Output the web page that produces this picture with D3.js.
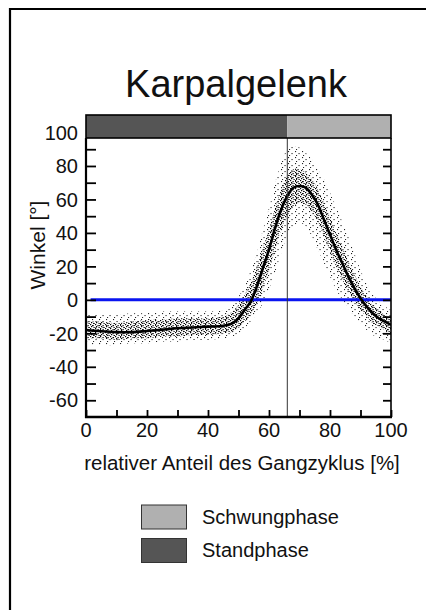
<!DOCTYPE html>
<html><head><meta charset="utf-8">
<script src="https://cdn.jsdelivr.net/npm/d3@7/dist/d3.min.js"></script>
<style>html,body{margin:0;padding:0;background:#fff;overflow:hidden;}svg{display:block;font-family:"Liberation Sans",Arial,sans-serif;}</style>
</head><body>
<script>
// ---- data ----
const pct = [0,5,10,15,20,25,30,35,40,45,48,50,52,54,56,58,60,62,64,66,68,70,72,74,76,78,80,82,84,86,88,90,92,94,96,98,100];
const meanAngle = [-18,-18.8,-19.3,-19.3,-18.6,-17.8,-17,-16.5,-16,-15.5,-14,-11,-6,-1,8,19,30,43,54,62,67,68,67,63,57,48,39,30,22,14,7,1,-4,-8,-11,-13,-15];
const outerUpper = [-9,-9,-9,-8,-8,-7,-7,-7,-7,-6,-3,2,8,18,28,42,55,70,82,90,92,91,88,84,78,72,64,56,47,38,28,18,10,4,-1,-4,-6];
const outerLower = [-27,-27,-27,-26,-26,-25,-25,-24,-24,-23,-22,-20,-17,-13,-8,-2,6,16,28,38,44,46,44,38,30,22,14,6,0,-5,-10,-14,-18,-21,-23,-24,-26];
const innerUpper = [-13,-13,-14,-13,-12,-12,-11,-11,-11,-10,-7,-3,3,10,20,31,42,55,66,74,78,78,76,72,66,58,49,40,32,23,15,8,2,-3,-6,-9,-10];
const innerLower = [-23,-23,-24,-23,-23,-22,-22,-21,-21,-20,-19,-17,-13,-9,-2,7,18,30,42,50,56,58,57,53,47,38,29,20,12,5,-1,-6,-10,-14,-16,-18,-20];
const phaseNames = ["Standphase","Schwungphase"];
const phaseStart = [0,66];
const phaseEnd = [66,100];
const phaseColors = ["#555555","#b0b0b0"];
const xTickLabels = [0,20,40,60,80,100];
const yTickLabels = [100,80,60,40,20,0,-20,-40,-60];
const title = "Karpalgelenk";
const xTitle = "relativer Anteil des Gangzyklus [%]";
const yTitle = "Winkel [°]";

// ---- layout ----
const W=426,H=610;
const svg=d3.select("body").append("svg").attr("width",W).attr("height",H);
const x=d3.scaleLinear().domain([0,100]).range([86,391]);
const y=d3.scaleLinear().domain([-70,100]).range([417,132.5]);
const plotTop=138, barTop=115;

// outer frame (only top/left visible)
svg.append("path").attr("d",`M10,${H} L10,9 L${W},9`).attr("fill","none").attr("stroke","#000").attr("stroke-width",2.2);

// patterns
const defs=svg.append("defs");
const pd=defs.append("pattern").attr("id","dense").attr("patternUnits","userSpaceOnUse").attr("width",5).attr("height",4);
[[0,0],[2.5,1],[1,2],[3.5,3]].forEach(p=>pd.append("rect").attr("x",p[0]).attr("y",p[1]).attr("width",1.2).attr("height",1.2).attr("fill","#000"));
const ps=defs.append("pattern").attr("id","sparse").attr("patternUnits","userSpaceOnUse").attr("width",7).attr("height",6);
[[1,1],[4.5,3],[2,5]].forEach(p=>ps.append("rect").attr("x",p[0]).attr("y",p[1]).attr("width",1.1).attr("height",1.1).attr("fill","#222"));

const clip=defs.append("clipPath").attr("id","pc");
clip.append("rect").attr("x",x(0)).attr("y",plotTop).attr("width",x(100)-x(0)).attr("height",y(-70)-plotTop);

const g=svg.append("g").attr("clip-path","url(#pc)");
const idx=d3.range(pct.length);
const curve=d3.curveCatmullRom;
g.append("path").datum(idx).attr("d",d3.area().x(i=>x(pct[i])).y0(i=>y(outerLower[i])).y1(i=>y(outerUpper[i])).curve(curve)).attr("fill","url(#sparse)");
g.append("path").datum(idx).attr("d",d3.area().x(i=>x(pct[i])).y0(i=>y(innerLower[i])).y1(i=>y(innerUpper[i])).curve(curve)).attr("fill","url(#dense)");

// zero line
g.append("line").attr("x1",x(1.5)).attr("x2",x(100)).attr("y1",y(0)).attr("y2",y(0)).attr("stroke","#0a14f0").attr("stroke-width",3);

// vertical phase line
svg.append("line").attr("x1",x(phaseEnd[0])).attr("x2",x(phaseEnd[0])).attr("y1",plotTop).attr("y2",y(-70)).attr("stroke","#333").attr("stroke-width",1);

// mean curve
g.append("path").datum(idx).attr("d",d3.line().x(i=>x(pct[i])).y(i=>y(meanAngle[i])).curve(curve)).attr("fill","none").attr("stroke","#000").attr("stroke-width",2.6);

// phase bar
phaseNames.forEach((n,i)=>{
  svg.append("rect").attr("x",x(phaseStart[i])).attr("y",barTop).attr("width",x(phaseEnd[i])-x(phaseStart[i])).attr("height",plotTop-barTop).attr("fill",phaseColors[i]);
});
svg.append("rect").attr("x",x(0)).attr("y",barTop).attr("width",x(100)-x(0)).attr("height",plotTop-barTop).attr("fill","none").attr("stroke","#000").attr("stroke-width",1.6);

// axes
const yAxisL=d3.axisLeft(y).tickValues(d3.range(-60,91,10)).tickSize(-10).tickFormat("");
const gl=svg.append("g").attr("transform",`translate(${x(0)},0)`).call(yAxisL);
const yAxisR=d3.axisRight(y).tickValues(d3.range(-60,91,10)).tickSize(-8).tickFormat("");
const gr=svg.append("g").attr("transform",`translate(${x(100)},0)`).call(yAxisR);
const xAxisB=d3.axisBottom(x).tickValues(d3.range(0,101,10)).tickSize(-7).tickFormat("");
const gb=svg.append("g").attr("transform",`translate(0,${y(-70)})`).call(xAxisB);
[gl,gr,gb].forEach(a=>{a.select(".domain").remove();a.selectAll("line").attr("stroke","#000").attr("stroke-width",1.8);});
svg.append("line").attr("x1",x(0)).attr("x2",x(0)).attr("y1",plotTop).attr("y2",y(-70)+1).attr("stroke","#000").attr("stroke-width",2.2);
svg.append("line").attr("x1",x(100)).attr("x2",x(100)).attr("y1",plotTop).attr("y2",y(-70)+1).attr("stroke","#000").attr("stroke-width",1.6);
svg.append("line").attr("x1",x(0)-1).attr("x2",x(100)+1).attr("y1",y(-70)).attr("y2",y(-70)).attr("stroke","#000").attr("stroke-width",2.4);

// tick labels
svg.selectAll(".yl").data(yTickLabels).enter().append("text").attr("x",78).attr("y",d=>y(d)).attr("dy","0.36em")
  .attr("text-anchor","end").attr("font-size",20).attr("fill","#111").text(d=>d<0?"-"+Math.abs(d):d);
svg.selectAll(".xl").data(xTickLabels).enter().append("text").attr("x",d=>x(d)).attr("y",437)
  .attr("text-anchor","middle").attr("font-size",20).attr("fill","#111").text(d=>d);

// titles
svg.append("text").attr("x",236).attr("y",97).attr("text-anchor","middle").attr("font-size",38).attr("fill","#111").text(title);
svg.append("text").attr("x",242).attr("y",470).attr("text-anchor","middle").attr("font-size",20.5).attr("fill","#111").text(xTitle);
svg.append("text").attr("transform","translate(45,245) rotate(-90)").attr("text-anchor","middle").attr("font-size",21).attr("fill","#111").text(yTitle);

// legend
const legOrder=[1,0];
legOrder.forEach((pi,k)=>{
  const ly=505+k*33.5;
  svg.append("rect").attr("x",141.5).attr("y",ly).attr("width",45).attr("height",24).attr("fill",phaseColors[pi]).attr("stroke","#333").attr("stroke-width",1);
  svg.append("text").attr("x",202).attr("y",ly+18.5).attr("font-size",20).attr("fill","#111").text(phaseNames[pi]);
});
</script>
</body></html>
